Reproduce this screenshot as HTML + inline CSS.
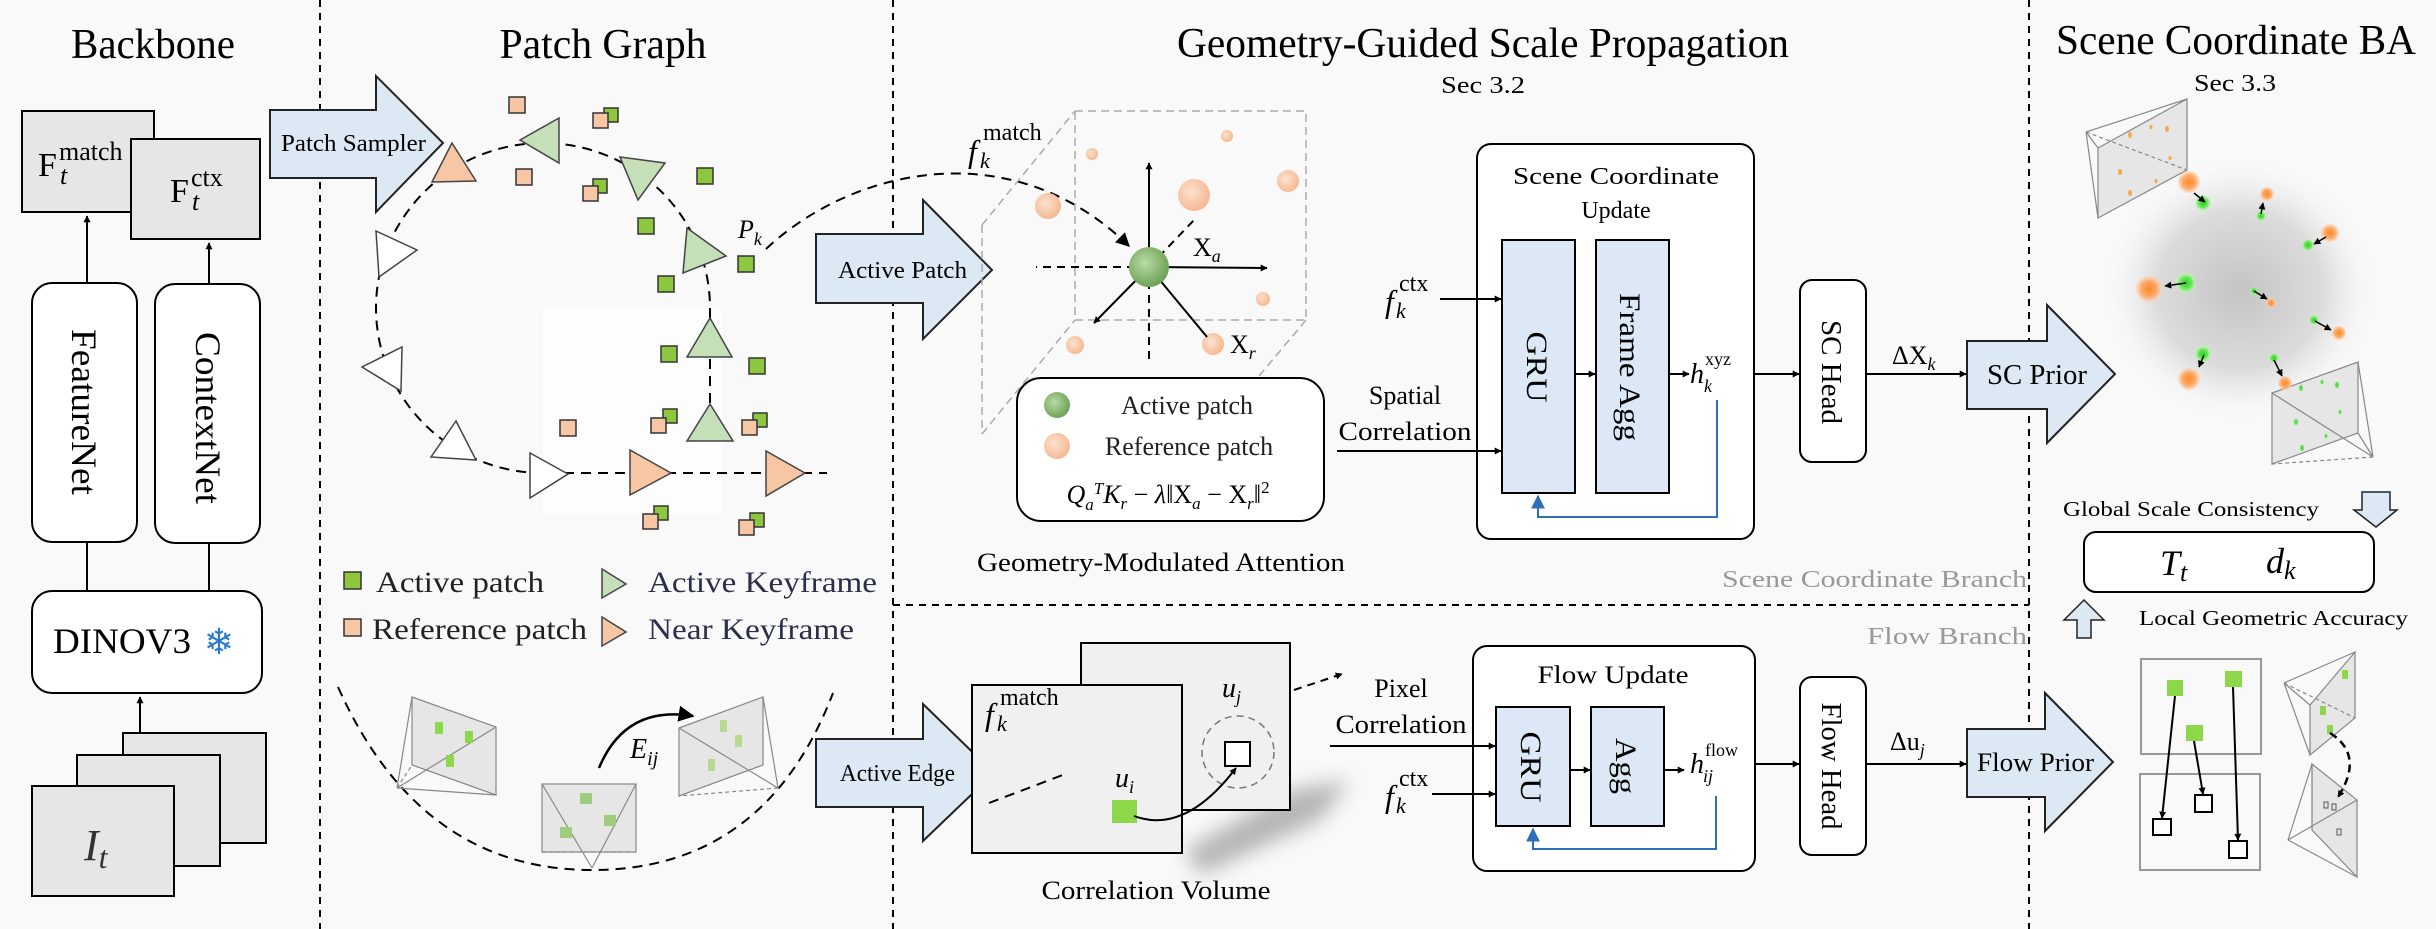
<!DOCTYPE html>
<html><head><meta charset="utf-8"><style>
html,body{margin:0;padding:0;background:#f9f9f9;width:2436px;height:929px;overflow:hidden;}
svg{display:block;font-family:"Liberation Serif",serif;}
</style></head><body>
<svg width="2436" height="929" viewBox="0 0 2436 929" xmlns="http://www.w3.org/2000/svg">
<defs>
<marker id="ah" viewBox="0 0 10 10" refX="9" refY="5" markerWidth="7" markerHeight="7" markerUnits="userSpaceOnUse" orient="auto"><path d="M0,0 L10,5 L0,10 z" fill="#000"/></marker>
<marker id="ahb" viewBox="0 0 10 10" refX="9" refY="5" markerWidth="16" markerHeight="16" markerUnits="userSpaceOnUse" orient="auto"><path d="M0,0 L10,5 L0,10 z" fill="#000"/></marker>
<marker id="ahbl" viewBox="0 0 10 10" refX="9" refY="5" markerWidth="14" markerHeight="14" markerUnits="userSpaceOnUse" orient="auto"><path d="M0,0 L10,5 L0,10 z" fill="#2f6fb5"/></marker>
<marker id="ahs" viewBox="0 0 10 10" refX="9" refY="5" markerWidth="14" markerHeight="14" markerUnits="userSpaceOnUse" orient="auto"><path d="M0,0 L10,5 L0,10 z" fill="#000"/></marker>
<radialGradient id="og" cx="50%" cy="50%" r="50%"><stop offset="0" stop-color="#fb8a2a"/><stop offset="0.6" stop-color="#fca968"/><stop offset="1" stop-color="#fdd5b5" stop-opacity="0.6"/></radialGradient>
<radialGradient id="gg" cx="50%" cy="50%" r="50%"><stop offset="0" stop-color="#2fcf1f"/><stop offset="0.6" stop-color="#6ee85c"/><stop offset="1" stop-color="#c8f5c0" stop-opacity="0.6"/></radialGradient>
<radialGradient id="op" cx="40%" cy="40%" r="60%"><stop offset="0" stop-color="#fde2cf"/><stop offset="1" stop-color="#f5b993"/></radialGradient>
<radialGradient id="gp" cx="40%" cy="40%" r="60%"><stop offset="0" stop-color="#b9dba5"/><stop offset="1" stop-color="#6fa257"/></radialGradient>
<radialGradient id="glow" cx="50%" cy="50%" r="50%"><stop offset="0" stop-color="#c4c4c4"/><stop offset="0.6" stop-color="#dcdcdc"/><stop offset="1" stop-color="#f9f9f9" stop-opacity="0"/></radialGradient>
<filter id="blur" x="-50%" y="-50%" width="200%" height="200%"><feGaussianBlur stdDeviation="10"/></filter>
</defs>

<!-- dividers -->
<g stroke="#000" stroke-width="2" stroke-dasharray="7,6" fill="none">
<line x1="320" y1="0" x2="320" y2="929"/>
<line x1="893" y1="0" x2="893" y2="929"/>
<line x1="2029" y1="0" x2="2029" y2="929"/>
<line x1="893" y1="605" x2="2029" y2="605"/>
</g>

<!-- titles -->
<g font-size="42" fill="#000" text-anchor="middle">
<text x="153" y="58" textLength="164" lengthAdjust="spacingAndGlyphs">Backbone</text>
<text x="603" y="58" textLength="207" lengthAdjust="spacingAndGlyphs">Patch Graph</text>
<text x="1483" y="57" textLength="612" lengthAdjust="spacingAndGlyphs">Geometry-Guided Scale Propagation</text>
<text x="2236" y="54" textLength="360" lengthAdjust="spacingAndGlyphs">Scene Coordinate BA</text>
</g>
<text x="1483" y="93" font-size="24" text-anchor="middle" textLength="84" lengthAdjust="spacingAndGlyphs">Sec 3.2</text>
<text x="2235" y="91" font-size="24" text-anchor="middle" textLength="82" lengthAdjust="spacingAndGlyphs">Sec 3.3</text>

<!-- Backbone -->
<g stroke="#000" stroke-width="2">
<rect x="22" y="111" width="132" height="101" fill="#e6e6e6"/>
<rect x="131" y="139" width="129" height="100" fill="#e6e6e6"/>
<rect x="32" y="283" width="105" height="259" rx="20" fill="#fff"/>
<rect x="155" y="284" width="105" height="259" rx="20" fill="#fff"/>
<rect x="32" y="591" width="230" height="102" rx="20" fill="#fff"/>
<rect x="123" y="733" width="143" height="110" fill="#e6e6e6"/>
<rect x="77" y="755" width="143" height="111" fill="#e6e6e6"/>
<rect x="32" y="786" width="142" height="110" fill="#e6e6e6"/>
<line x1="87" y1="283" x2="87" y2="216" marker-end="url(#ah)"/>
<line x1="209" y1="284" x2="209" y2="243" marker-end="url(#ah)"/>
<line x1="87" y1="542" x2="87" y2="591"/>
<line x1="209" y1="543" x2="209" y2="591"/>
<line x1="140" y1="733" x2="140" y2="697" marker-end="url(#ah)"/>
</g>
<text x="38" y="176" font-size="34">F</text>
<text x="59" y="160" font-size="26">match</text>
<text x="60" y="184" font-size="26" font-style="italic">t</text>
<text x="170" y="202" font-size="34">F</text>
<text x="191" y="186" font-size="26">ctx</text>
<text x="192" y="210" font-size="26" font-style="italic">t</text>
<text transform="translate(72,412) rotate(90)" font-size="36" text-anchor="middle" textLength="166" lengthAdjust="spacingAndGlyphs">FeatureNet</text>
<text transform="translate(196,418) rotate(90)" font-size="36" text-anchor="middle" textLength="172" lengthAdjust="spacingAndGlyphs">ContextNet</text>
<text x="53" y="653" font-size="36" textLength="138" lengthAdjust="spacingAndGlyphs">DINOV3</text>
<text x="219" y="654" font-size="36" fill="#2a7bd0" text-anchor="middle">❄</text>
<text x="84" y="860" font-size="44" font-style="italic" fill="#333">I<tspan font-size="32" dy="8">t</tspan></text>

<!-- block arrows -->
<g stroke="#222" stroke-width="2" fill="#dde8f5">
<polygon points="270,110 376,110 376,76 443,143 376,212 376,178 270,178"/>
<polygon points="816,234 923,234 923,200 992,270 923,339 923,303 816,303"/>
<polygon points="816,739 923,739 923,704 994,773 923,841 923,807 816,807"/>
<polygon points="1967,341 2047,341 2047,305 2115,374 2047,443 2047,409 1967,409"/>
<polygon points="1967,729 2045,729 2045,693 2113,762 2045,831 2045,797 1967,797"/>
</g>
<text x="281" y="151" font-size="24" textLength="145" lengthAdjust="spacingAndGlyphs">Patch Sampler</text>
<text x="838" y="278" font-size="24" textLength="129" lengthAdjust="spacingAndGlyphs">Active Patch</text>
<text x="840" y="781" font-size="24" textLength="115" lengthAdjust="spacingAndGlyphs">Active Edge</text>
<text x="1987" y="384" font-size="28" textLength="100" lengthAdjust="spacingAndGlyphs">SC Prior</text>
<text x="1977" y="771" font-size="26" textLength="117" lengthAdjust="spacingAndGlyphs">Flow Prior</text>

<!-- Patch graph -->
<rect x="543" y="308" width="179" height="207" fill="#fdfdfd"/>
<g stroke="#000" stroke-width="2" stroke-dasharray="10,7" fill="none">
<path d="M543,473 A167,165 0 1 1 710,308 L710,441"/>
<line x1="530" y1="473" x2="827" y2="473"/>
</g>
<g stroke="#444" stroke-width="1.5">
<polygon points="452,143 432,182 476,181" fill="#f7c6a5"/>
<polygon points="520,140 559,118 559,163" fill="#c5dfb8"/>
<polygon points="620,157 665,163 638,200" fill="#c5dfb8"/>
<polygon points="687,228 726,256 683,273" fill="#c5dfb8"/>
<polygon points="710,318 687,357 732,357" fill="#c5dfb8"/>
<polygon points="710,404 687,441 733,441" fill="#c5dfb8"/>
<polygon points="376,231 417,250 379,277" fill="#fff"/>
<polygon points="362,367 402,347 401,391" fill="#fff"/>
<polygon points="456,421 431,457 476,460" fill="#fff"/>
<polygon points="530,453 568,474 530,498" fill="#fff"/>
<polygon points="630,450 671,473 630,495" fill="#f7c6a5"/>
<polygon points="766,451 805,473 766,496" fill="#f7c6a5"/>
</g>
<g stroke="#333" stroke-width="1.5">
<g fill="#8dc63f">
<rect x="697" y="168" width="16" height="16"/><rect x="638" y="218" width="16" height="16"/>
<rect x="738" y="256" width="16" height="16"/><rect x="658" y="276" width="16" height="16"/>
<rect x="661" y="346" width="16" height="16"/><rect x="749" y="358" width="16" height="16"/>
<rect x="604" y="108" width="14" height="14"/><rect x="593" y="179" width="14" height="14"/>
<rect x="663" y="409" width="14" height="14"/><rect x="753" y="413" width="14" height="14"/>
<rect x="654" y="506" width="14" height="14"/><rect x="750" y="513" width="14" height="14"/>
</g>
<g fill="#f7c6a5">
<rect x="509" y="97" width="16" height="16"/><rect x="516" y="169" width="16" height="16"/><rect x="560" y="420" width="16" height="16"/>
<rect x="593" y="113" width="15" height="15"/><rect x="583" y="186" width="15" height="15"/>
<rect x="651" y="418" width="15" height="15"/><rect x="742" y="420" width="15" height="15"/>
<rect x="643" y="514" width="15" height="15"/><rect x="739" y="520" width="15" height="15"/>
</g>
</g>
<text x="738" y="238" font-size="26" font-style="italic">P<tspan font-size="18" dy="7">k</tspan></text>
<path d="M766,249 C850,170 1010,130 1129,246" stroke="#000" stroke-width="2" stroke-dasharray="10,7" fill="none" marker-end="url(#ahs)"/>

<!-- legend -->
<rect x="344" y="572" width="17" height="17" fill="#8dc63f" stroke="#333" stroke-width="1.5"/>
<rect x="344" y="619" width="17" height="17" fill="#f7c6a5" stroke="#333" stroke-width="1.5"/>
<polygon points="602,569 626,584 602,598" fill="#c5dfb8" stroke="#444" stroke-width="1.5"/>
<polygon points="602,617 626,632 602,646" fill="#f7c6a5" stroke="#444" stroke-width="1.5"/>
<g font-size="30" fill="#222">
<text x="376" y="592" textLength="168" lengthAdjust="spacingAndGlyphs">Active patch</text>
<text x="372" y="639" textLength="215" lengthAdjust="spacingAndGlyphs">Reference patch</text>
<text x="648" y="592" fill="#2b2f4a" textLength="229" lengthAdjust="spacingAndGlyphs">Active Keyframe</text>
<text x="648" y="639" fill="#2b2f4a" textLength="206" lengthAdjust="spacingAndGlyphs">Near Keyframe</text>
</g>

<!-- bottom U & frustums -->
<path d="M338,687 Q420,870 592,870 Q765,870 833,693" stroke="#000" stroke-width="2" stroke-dasharray="10,7" fill="none"/>
<g stroke="#888" stroke-width="1.2">
<polygon points="412,697 496,727 496,795 412,765" fill="#e6e6e6"/>
<line x1="397" y1="788" x2="412" y2="697"/><line x1="397" y1="788" x2="496" y2="727"/><line x1="397" y1="788" x2="496" y2="795"/>
<line x1="397" y1="788" x2="412" y2="765" stroke-dasharray="4,3"/>
<rect x="542" y="784" width="94" height="68" fill="#e6e6e6"/>
<line x1="592" y1="868" x2="542" y2="784"/><line x1="592" y1="868" x2="636" y2="784"/>
<line x1="542" y1="852" x2="636" y2="852" stroke-dasharray="4,3"/>
<polygon points="679,728 763,697 763,765 679,796" fill="#e6e6e6"/>
<line x1="778" y1="788" x2="763" y2="697"/><line x1="778" y1="788" x2="679" y2="728"/><line x1="778" y1="788" x2="679" y2="796" stroke-dasharray="4,3"/>
</g>
<g fill="#8dd84a">
<rect x="435" y="722" width="8" height="12"/><rect x="465" y="731" width="8" height="12"/><rect x="446" y="755" width="8" height="12"/>
<rect x="580" y="793" width="12" height="11" fill="#a0cc80"/><rect x="604" y="815" width="12" height="11" fill="#a0cc80"/><rect x="560" y="827" width="12" height="11" fill="#a0cc80"/>
<rect x="720" y="720" width="7" height="12" fill="#b5da90"/><rect x="735" y="735" width="7" height="12" fill="#b5da90"/><rect x="708" y="759" width="7" height="12" fill="#b5da90"/>
</g>
<path d="M599,768 Q625,705 693,716" stroke="#000" stroke-width="2.5" fill="none" marker-end="url(#ahb)"/>
<text x="630" y="758" font-size="28" font-style="italic">E<tspan font-size="20" dy="7">ij</tspan></text>

<!-- cube & attention -->
<g stroke="#aaa" stroke-width="1.5" stroke-dasharray="8,5" fill="none">
<rect x="1075" y="111" width="231" height="209"/>
<line x1="982" y1="225" x2="1075" y2="111"/>
<line x1="982" y1="225" x2="982" y2="434"/>
<line x1="982" y1="434" x2="1075" y2="320"/>
<line x1="1306" y1="320" x2="1259" y2="376"/>
</g>
<g fill="url(#op)">
<circle cx="1048" cy="206" r="13"/><circle cx="1194" cy="195" r="16"/><circle cx="1092" cy="154" r="6"/>
<circle cx="1227" cy="136" r="6"/><circle cx="1288" cy="181" r="11"/><circle cx="1263" cy="299" r="7"/>
<circle cx="1075" cy="345" r="9"/><circle cx="1213" cy="344" r="11"/>
</g>
<g stroke="#000" stroke-width="2" fill="none">
<line x1="1149" y1="267" x2="1149" y2="163" marker-end="url(#ah)"/>
<line x1="1149" y1="267" x2="1149" y2="363" stroke-dasharray="8,6"/>
<line x1="1149" y1="267" x2="1267" y2="268" marker-end="url(#ah)"/>
<line x1="1149" y1="267" x2="1036" y2="267" stroke-dasharray="8,6"/>
<line x1="1149" y1="267" x2="1094" y2="323" marker-end="url(#ah)"/>
<line x1="1149" y1="267" x2="1194" y2="220" stroke-dasharray="8,6"/>
<line x1="1149" y1="267" x2="1207" y2="337"/>
</g>
<circle cx="1149" cy="267" r="20" fill="url(#gp)"/>
<text x="968" y="162" font-size="32" font-style="italic">f</text>
<text x="983" y="140" font-size="24">match</text>
<text x="980" y="168" font-size="22" font-style="italic">k</text>
<text x="1193" y="256" font-size="26">X<tspan font-size="18" font-style="italic" dy="6">a</tspan></text>
<text x="1230" y="353" font-size="26">X<tspan font-size="18" font-style="italic" dy="6">r</tspan></text>
<rect x="1017" y="378" width="307" height="143" rx="24" fill="#fff" stroke="#000" stroke-width="2"/>
<circle cx="1057" cy="405" r="13" fill="url(#gp)"/>
<circle cx="1057" cy="446" r="13" fill="url(#op)"/>
<text x="1187" y="414" font-size="26" text-anchor="middle" fill="#222">Active patch</text>
<text x="1189" y="455" font-size="26" text-anchor="middle" fill="#222">Reference patch</text>
<text x="1168" y="503" font-size="26" text-anchor="middle" font-style="italic">Q<tspan font-size="17" dy="7">a</tspan><tspan font-size="17" dy="-16">T</tspan><tspan dy="9">K</tspan><tspan font-size="17" dy="6">r</tspan><tspan dy="-6" font-style="normal"> − </tspan>λ<tspan font-style="normal">‖X</tspan><tspan font-size="17" dy="6">a</tspan><tspan dy="-6" font-style="normal"> − X</tspan><tspan font-size="17" dy="6">r</tspan><tspan dy="-6" font-style="normal">‖</tspan><tspan font-style="normal" font-size="17" dy="-10">2</tspan></text>
<text x="1161" y="571" font-size="26" text-anchor="middle" textLength="368" lengthAdjust="spacingAndGlyphs">Geometry-Modulated Attention</text>

<!-- Scene coordinate update -->
<rect x="1477" y="144" width="277" height="395" rx="14" fill="#fff" stroke="#000" stroke-width="2"/>
<text x="1616" y="184" font-size="24" text-anchor="middle" textLength="206" lengthAdjust="spacingAndGlyphs">Scene Coordinate</text>
<text x="1616" y="218" font-size="24" text-anchor="middle">Update</text>
<rect x="1502" y="240" width="73" height="253" fill="#dce8f5" stroke="#000" stroke-width="2"/>
<rect x="1596" y="240" width="73" height="253" fill="#dce8f5" stroke="#000" stroke-width="2"/>
<text transform="translate(1527,367) rotate(90)" font-size="30" text-anchor="middle" textLength="71" lengthAdjust="spacingAndGlyphs">GRU</text>
<text transform="translate(1620,367) rotate(90)" font-size="30" text-anchor="middle" textLength="148" lengthAdjust="spacingAndGlyphs">Frame Agg</text>
<g stroke="#000" stroke-width="2">
<line x1="1440" y1="299" x2="1501" y2="299" marker-end="url(#ah)"/>
<line x1="1337" y1="451" x2="1501" y2="451" marker-end="url(#ah)"/>
<line x1="1575" y1="374" x2="1595" y2="374" marker-end="url(#ah)"/>
<line x1="1669" y1="374" x2="1689" y2="374" marker-end="url(#ah)"/>
<line x1="1754" y1="374" x2="1799" y2="374" marker-end="url(#ah)"/>
<line x1="1866" y1="374" x2="1966" y2="374" marker-end="url(#ah)"/>
</g>
<polyline points="1717,400 1717,517 1538,517 1538,496" stroke="#2f6fb5" stroke-width="2" fill="none" marker-end="url(#ahbl)"/>
<text x="1385" y="312" font-size="32" font-style="italic">f</text>
<text x="1399" y="291" font-size="24">ctx</text>
<text x="1396" y="318" font-size="22" font-style="italic">k</text>
<text x="1405" y="404" font-size="26" text-anchor="middle">Spatial</text>
<text x="1405" y="440" font-size="26" text-anchor="middle" textLength="133" lengthAdjust="spacingAndGlyphs">Correlation</text>
<text x="1690" y="383" font-size="28" font-style="italic">h</text>
<text x="1705" y="365" font-size="18">xyz</text>
<text x="1704" y="392" font-size="18" font-style="italic">k</text>
<rect x="1800" y="280" width="66" height="182" rx="12" fill="#fff" stroke="#000" stroke-width="2"/>
<text transform="translate(1822,372) rotate(90)" font-size="28" text-anchor="middle" textLength="104" lengthAdjust="spacingAndGlyphs">SC Head</text>
<text x="1892" y="364" font-size="26">ΔX<tspan font-size="18" font-style="italic" dy="6">k</tspan></text>
<text x="2027" y="587" font-size="24" fill="#999" text-anchor="end" textLength="305" lengthAdjust="spacingAndGlyphs">Scene Coordinate Branch</text>
<text x="2027" y="644" font-size="24" fill="#999" text-anchor="end" textLength="160" lengthAdjust="spacingAndGlyphs">Flow Branch</text>

<!-- Correlation volume -->
<polygon points="1185,850 1290,790 1350,780 1320,820 1200,875" fill="#888" opacity="0.6" filter="url(#blur)"/>
<rect x="1081" y="643" width="209" height="167" fill="#f0f0f0" stroke="#000" stroke-width="2"/>
<rect x="972" y="685" width="210" height="168" fill="#f0f0f0" stroke="#000" stroke-width="2"/>
<circle cx="1238" cy="752" r="36" fill="none" stroke="#777" stroke-width="1.5" stroke-dasharray="7,5"/>
<rect x="1225" y="742" width="25" height="24" fill="#fff" stroke="#000" stroke-width="2"/>
<rect x="1112" y="800" width="25" height="23" fill="#8dd84a"/>
<line x1="989" y1="803" x2="1068" y2="773" stroke="#000" stroke-width="2" stroke-dasharray="10,7"/>
<path d="M1134,816 Q1185,835 1236,768" stroke="#000" stroke-width="2" fill="none" marker-end="url(#ah)"/>
<line x1="1294" y1="690" x2="1342" y2="674" stroke="#000" stroke-width="2" stroke-dasharray="8,6" marker-end="url(#ah)"/>
<text x="985" y="725" font-size="32" font-style="italic">f</text>
<text x="1000" y="705" font-size="24">match</text>
<text x="997" y="731" font-size="22" font-style="italic">k</text>
<text x="1115" y="787" font-size="28" font-style="italic">u<tspan font-size="18" dy="6">i</tspan></text>
<text x="1222" y="697" font-size="28" font-style="italic">u<tspan font-size="18" dy="6">j</tspan></text>
<text x="1156" y="899" font-size="26" text-anchor="middle" textLength="229" lengthAdjust="spacingAndGlyphs">Correlation Volume</text>

<!-- Flow update -->
<rect x="1473" y="646" width="282" height="225" rx="14" fill="#fff" stroke="#000" stroke-width="2"/>
<text x="1613" y="683" font-size="25" text-anchor="middle" textLength="151" lengthAdjust="spacingAndGlyphs">Flow Update</text>
<rect x="1496" y="707" width="74" height="119" fill="#dce8f5" stroke="#000" stroke-width="2"/>
<rect x="1591" y="707" width="73" height="119" fill="#dce8f5" stroke="#000" stroke-width="2"/>
<text transform="translate(1521,767) rotate(90)" font-size="30" text-anchor="middle" textLength="71" lengthAdjust="spacingAndGlyphs">GRU</text>
<text transform="translate(1616,766) rotate(90)" font-size="30" text-anchor="middle" textLength="56" lengthAdjust="spacingAndGlyphs">Agg</text>
<g stroke="#000" stroke-width="2">
<line x1="1330" y1="746" x2="1495" y2="746" marker-end="url(#ah)"/>
<line x1="1432" y1="794" x2="1495" y2="794" marker-end="url(#ah)"/>
<line x1="1570" y1="770" x2="1590" y2="770" marker-end="url(#ah)"/>
<line x1="1664" y1="770" x2="1684" y2="770" marker-end="url(#ah)"/>
<line x1="1755" y1="764" x2="1799" y2="764" marker-end="url(#ah)"/>
<line x1="1866" y1="764" x2="1966" y2="764" marker-end="url(#ah)"/>
</g>
<polyline points="1716,796 1716,849 1533,849 1533,829" stroke="#2f6fb5" stroke-width="2" fill="none" marker-end="url(#ahbl)"/>
<text x="1401" y="697" font-size="26" text-anchor="middle">Pixel</text>
<text x="1401" y="733" font-size="26" text-anchor="middle" textLength="131" lengthAdjust="spacingAndGlyphs">Correlation</text>
<text x="1385" y="807" font-size="32" font-style="italic">f</text>
<text x="1399" y="786" font-size="24">ctx</text>
<text x="1396" y="813" font-size="22" font-style="italic">k</text>
<text x="1690" y="773" font-size="28" font-style="italic">h</text>
<text x="1705" y="756" font-size="18">flow</text>
<text x="1703" y="782" font-size="18" font-style="italic">ij</text>
<rect x="1800" y="677" width="66" height="178" rx="12" fill="#fff" stroke="#000" stroke-width="2"/>
<text transform="translate(1822,766) rotate(90)" font-size="28" text-anchor="middle" textLength="127" lengthAdjust="spacingAndGlyphs">Flow Head</text>
<text x="1890" y="750" font-size="26">Δu<tspan font-size="18" font-style="italic" dy="6">j</tspan></text>

<!-- Scene coordinate BA -->
<ellipse cx="2240" cy="290" rx="140" ry="135" fill="url(#glow)"/>
<g stroke="#888" stroke-width="1.2">
<polygon points="2098,148 2187,99 2187,170 2098,218" fill="#e6e6e6"/>
<line x1="2086" y1="132" x2="2098" y2="218"/><line x1="2086" y1="132" x2="2187" y2="99"/><line x1="2086" y1="132" x2="2098" y2="148"/>
<line x1="2086" y1="132" x2="2187" y2="170" stroke-dasharray="4,3"/>
<polygon points="2272,393 2358,362 2358,433 2272,464" fill="#e6e6e6"/>
<line x1="2373" y1="457" x2="2358" y2="362"/><line x1="2373" y1="457" x2="2272" y2="393"/><line x1="2373" y1="457" x2="2358" y2="433"/>
<line x1="2373" y1="457" x2="2272" y2="464" stroke-dasharray="4,3"/>
</g>
<g fill="#f9a64a"><ellipse cx="2130" cy="135" rx="2" ry="3"/><ellipse cx="2151" cy="127" rx="1.5" ry="2"/><ellipse cx="2167" cy="129" rx="2" ry="3"/><ellipse cx="2120" cy="172" rx="2" ry="3"/><ellipse cx="2170" cy="158" rx="1.5" ry="2"/><ellipse cx="2130" cy="193" rx="2" ry="3"/><ellipse cx="2156" cy="181" rx="1.5" ry="2"/></g>
<g fill="#5be04a"><ellipse cx="2301" cy="388" rx="2" ry="3"/><ellipse cx="2322" cy="382" rx="1.5" ry="2"/><ellipse cx="2337" cy="385" rx="2" ry="3"/><ellipse cx="2296" cy="422" rx="2" ry="3"/><ellipse cx="2340" cy="412" rx="1.5" ry="2"/><ellipse cx="2302" cy="448" rx="2" ry="3"/><ellipse cx="2326" cy="436" rx="1.5" ry="2"/></g>
<g fill="url(#og)">
<circle cx="2189" cy="182" r="11"/><circle cx="2267" cy="194" r="7"/><circle cx="2330" cy="233" r="9"/>
<circle cx="2149" cy="289" r="13"/><circle cx="2271" cy="303" r="5"/><circle cx="2339" cy="333" r="7"/>
<circle cx="2189" cy="379" r="11"/><circle cx="2285" cy="383" r="7"/>
</g>
<g fill="url(#gg)">
<circle cx="2203" cy="203" r="8"/><circle cx="2261" cy="216" r="5"/><circle cx="2308" cy="245" r="6"/>
<circle cx="2186" cy="283" r="10"/><circle cx="2254" cy="291" r="4"/><circle cx="2314" cy="320" r="5"/>
<circle cx="2203" cy="354" r="8"/><circle cx="2274" cy="358" r="5"/>
</g>
<g stroke="#000" stroke-width="1.5" fill="none">
<line x1="2194" y1="193" x2="2205" y2="202" marker-end="url(#ah)"/>
<line x1="2261" y1="214" x2="2263" y2="203" marker-end="url(#ah)"/>
<line x1="2326" y1="237" x2="2314" y2="244" marker-end="url(#ah)"/>
<line x1="2186" y1="283" x2="2165" y2="286" marker-end="url(#ah)"/>
<line x1="2254" y1="291" x2="2267" y2="299" marker-end="url(#ah)"/>
<line x1="2315" y1="321" x2="2331" y2="330" marker-end="url(#ah)"/>
<line x1="2204" y1="355" x2="2199" y2="367" marker-end="url(#ah)"/>
<line x1="2274" y1="360" x2="2282" y2="376" marker-end="url(#ah)"/>
</g>
<text x="2063" y="516" font-size="21" textLength="256" lengthAdjust="spacingAndGlyphs">Global Scale Consistency</text>
<polygon points="2362,492 2390,492 2390,510 2397,510 2376,527 2354,510 2362,510" fill="#dde8f5" stroke="#222" stroke-width="1.5"/>
<rect x="2084" y="532" width="290" height="60" rx="12" fill="#fff" stroke="#000" stroke-width="2"/>
<text x="2160" y="575" font-size="36" font-style="italic">T<tspan font-size="26" dy="6">t</tspan></text>
<text x="2266" y="573" font-size="36" font-style="italic">d<tspan font-size="26" dy="6">k</tspan></text>
<polygon points="2077,638 2091,638 2091,620 2104,620 2084,600 2064,620 2077,620" fill="#dde8f5" stroke="#222" stroke-width="1.5"/>
<text x="2139" y="625" font-size="21" textLength="269" lengthAdjust="spacingAndGlyphs">Local Geometric Accuracy</text>
<g stroke="#999" stroke-width="2" fill="none">
<rect x="2141" y="659" width="120" height="95"/>
<rect x="2140" y="774" width="120" height="96"/>
</g>
<g fill="#8dd84a"><rect x="2167" y="680" width="16" height="16"/><rect x="2225" y="671" width="17" height="16"/><rect x="2186" y="725" width="17" height="16"/></g>
<g stroke="#000" stroke-width="2" fill="#fff"><rect x="2153" y="819" width="18" height="16"/><rect x="2195" y="795" width="17" height="17"/><rect x="2229" y="841" width="18" height="17"/></g>
<g stroke="#000" stroke-width="2">
<line x1="2175" y1="696" x2="2162" y2="818" marker-end="url(#ah)"/>
<line x1="2194" y1="741" x2="2203" y2="794" marker-end="url(#ah)"/>
<line x1="2233" y1="687" x2="2238" y2="840" marker-end="url(#ah)"/>
</g>
<g stroke="#888" stroke-width="1.2">
<polygon points="2310,705 2355,652 2355,718 2310,755" fill="#e6e6e6"/>
<line x1="2284" y1="683" x2="2355" y2="652"/><line x1="2284" y1="683" x2="2310" y2="705"/><line x1="2284" y1="683" x2="2310" y2="755"/>
<line x1="2284" y1="683" x2="2355" y2="718" stroke-dasharray="4,3"/>
<polygon points="2312,764 2357,800 2357,877 2312,830" fill="#e6e6e6"/>
<line x1="2288" y1="840" x2="2312" y2="764"/><line x1="2288" y1="840" x2="2357" y2="800"/><line x1="2288" y1="840" x2="2357" y2="877"/>
<line x1="2312" y1="764" x2="2312" y2="830" stroke-dasharray="4,3"/>
</g>
<g fill="#8dd84a"><rect x="2342" y="670" width="6" height="9"/><rect x="2320" y="706" width="6" height="9"/><rect x="2327" y="725" width="6" height="9"/></g>
<path d="M2330,733 Q2365,755 2338,797" stroke="#000" stroke-width="2.5" stroke-dasharray="8,5" fill="none" marker-end="url(#ah)"/>
<g stroke="#555" stroke-width="1" fill="none"><rect x="2324" y="802" width="4" height="6"/><rect x="2332" y="804" width="4" height="6"/><rect x="2337" y="829" width="4" height="6"/></g>
</svg>
</body></html>
